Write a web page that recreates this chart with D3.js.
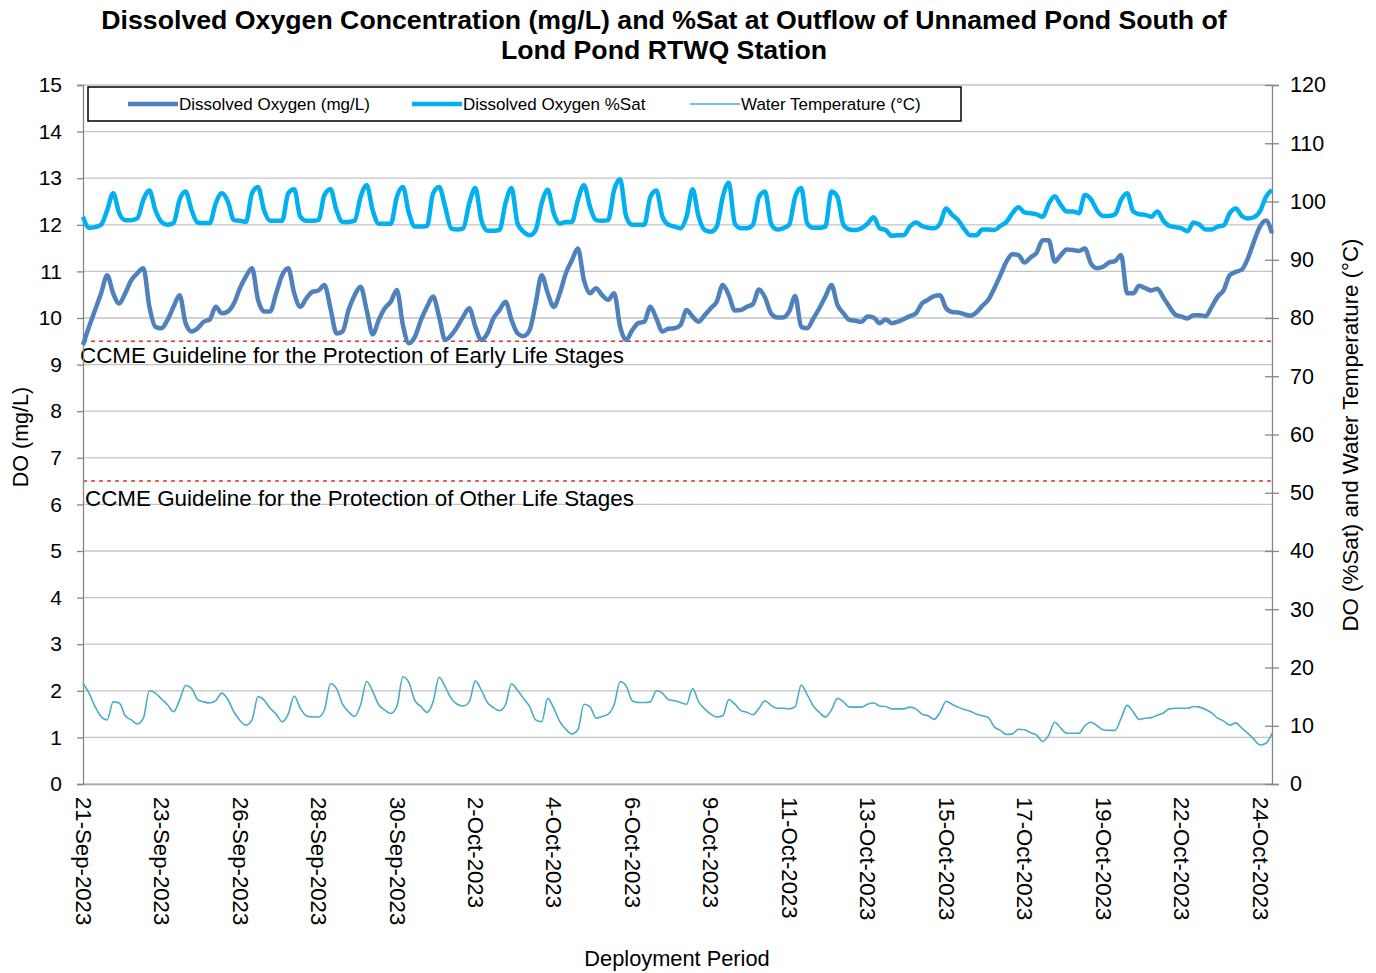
<!DOCTYPE html>
<html>
<head>
<meta charset="utf-8">
<script src="https://cdn.jsdelivr.net/npm/d3@7"></script>
<style>
  body { margin: 0; background: #fff; }
  svg text { font-family: "Liberation Sans", Arial, sans-serif; fill: #000; }
</style>
</head>
<body>
<div id="chart"></div>
<script>
// readings every 4 hours, starting 21-Sep-2023 18:00
var startTime = Date.UTC(2023, 8, 21, 18);
var stepHours = 4;
var tickEveryHours = 52;
var tickLabelCount = 16;

var doMgL = [
  9.42, 9.81, 10.17, 10.53, 10.92, 10.53, 10.31, 10.53, 10.81, 10.96,
  11.07, 10.24, 9.81, 9.78, 9.96, 10.24, 10.49, 9.89, 9.71, 9.78,
  9.92, 9.97, 10.24, 10.10, 10.14, 10.31, 10.64, 10.89, 11.07, 10.39,
  10.14, 10.14, 10.53, 10.92, 11.07, 10.53, 10.24, 10.42, 10.56, 10.59,
  10.71, 10.21, 9.67, 9.71, 10.17, 10.49, 10.67, 10.17, 9.65, 9.96,
  10.21, 10.35, 10.60, 9.85, 9.46, 9.60, 9.96, 10.24, 10.46, 10.03,
  9.53, 9.63, 9.81, 10.03, 10.21, 9.81, 9.53, 9.67, 9.99, 10.17,
  10.35, 9.96, 9.67, 9.61, 9.74, 10.31, 10.92, 10.53, 10.24, 10.53,
  10.96, 11.24, 11.49, 10.81, 10.53, 10.64, 10.49, 10.39, 10.53, 9.81,
  9.53, 9.74, 9.89, 9.92, 10.24, 9.99, 9.71, 9.77, 9.78, 9.85,
  10.17, 10.03, 9.92, 10.06, 10.21, 10.35, 10.71, 10.49, 10.16, 10.17,
  10.24, 10.30, 10.61, 10.44, 10.10, 10.01, 10.01, 10.14, 10.47, 9.81,
  9.78, 9.99, 10.21, 10.46, 10.71, 10.28, 10.10, 9.96, 9.94, 9.92,
  10.03, 10.01, 9.89, 9.97, 9.89, 9.92, 9.98, 10.04, 10.10, 10.31,
  10.39, 10.47, 10.49, 10.21, 10.13, 10.12, 10.08, 10.05, 10.12, 10.26,
  10.39, 10.64, 10.92, 11.21, 11.37, 11.35, 11.19, 11.30, 11.40, 11.67,
  11.67, 11.21, 11.35, 11.47, 11.46, 11.44, 11.49, 11.17, 11.07, 11.10,
  11.19, 11.22, 11.35, 10.53, 10.53, 10.69, 10.64, 10.59, 10.63, 10.44,
  10.24, 10.07, 10.03, 9.99, 10.06, 10.06, 10.04, 10.24, 10.46, 10.60,
  10.92, 10.99, 11.04, 11.28, 11.64, 11.96, 12.09, 11.82
];

var doSat = [
  97.4, 95.5, 95.6, 96.0, 98.5, 101.4, 98.0, 96.8, 96.8, 97.1,
  100.3, 101.9, 98.5, 96.5, 96.0, 96.3, 100.3, 101.7, 98.5, 96.4,
  96.3, 96.3, 99.7, 101.4, 100.0, 96.8, 96.7, 96.5, 101.4, 102.5,
  98.5, 96.7, 96.7, 96.7, 101.4, 102.1, 97.4, 96.7, 96.7, 96.8,
  101.1, 102.1, 98.5, 96.5, 96.5, 96.7, 100.8, 102.8, 98.5, 96.2,
  96.2, 96.2, 100.8, 102.5, 98.0, 95.7, 95.7, 95.8, 101.4, 102.5,
  99.1, 95.4, 95.2, 95.4, 99.7, 102.3, 96.8, 95.0, 95.0, 95.1,
  99.7, 102.3, 96.2, 94.8, 94.2, 95.1, 99.7, 102.0, 98.0, 96.2,
  96.5, 96.5, 100.3, 102.8, 99.1, 96.8, 96.7, 96.8, 102.0, 103.8,
  97.4, 96.0, 96.0, 96.0, 100.8, 101.9, 97.4, 96.0, 95.7, 95.4,
  97.4, 102.1, 97.4, 95.1, 94.8, 95.7, 100.8, 103.2, 96.2, 95.4,
  95.4, 96.0, 100.8, 101.7, 96.2, 95.2, 95.4, 96.0, 100.8, 102.3,
  96.2, 95.5, 95.5, 95.7, 101.7, 100.8, 96.0, 95.2, 95.1, 95.4,
  96.2, 97.3, 95.4, 95.1, 94.1, 94.2, 94.2, 95.7, 96.4, 95.8,
  95.5, 95.4, 96.2, 98.8, 97.7, 96.8, 95.3, 94.2, 94.2, 95.2,
  95.2, 95.1, 95.8, 96.5, 98.0, 99.0, 98.1, 98.0, 97.8, 97.4,
  99.6, 100.9, 99.4, 98.3, 98.3, 98.0, 101.1, 100.4, 98.5, 97.5,
  97.5, 97.8, 100.3, 101.4, 98.3, 97.8, 97.7, 97.4, 98.3, 96.7,
  95.8, 95.6, 95.4, 94.9, 96.4, 96.0, 95.2, 95.2, 95.7, 95.9,
  98.0, 98.8, 97.5, 97.1, 97.3, 98.3, 100.8, 102.0
];

var waterTemp = [
  17.3, 15.6, 13.3, 11.6, 11.0, 14.1, 13.9, 11.7, 11.0, 10.3,
  11.3, 16.0, 15.6, 14.6, 13.6, 12.4, 14.4, 16.9, 16.4, 14.5,
  14.1, 13.9, 14.3, 15.6, 14.5, 12.4, 10.9, 10.1, 11.0, 15.0,
  14.4, 13.0, 12.0, 10.7, 12.0, 15.1, 13.0, 11.7, 11.5, 11.5,
  12.7, 17.2, 16.4, 13.7, 12.4, 11.6, 13.6, 17.6, 15.9, 13.6,
  12.7, 12.1, 13.3, 18.4, 17.4, 14.3, 13.3, 12.3, 14.1, 18.3,
  16.7, 14.7, 13.7, 13.4, 14.1, 17.7, 16.1, 14.0, 13.1, 12.6,
  13.6, 17.2, 16.1, 14.7, 13.3, 11.0, 10.7, 14.7, 13.0, 10.7,
  9.4, 8.6, 9.3, 13.7, 13.3, 11.3, 11.6, 12.0, 13.6, 17.6,
  16.8, 14.3, 14.0, 14.0, 14.1, 16.0, 15.6, 14.5, 14.3, 14.0,
  13.7, 16.4, 14.1, 12.9, 12.0, 11.5, 11.7, 14.5, 13.7, 12.6,
  12.3, 11.9, 13.0, 14.3, 13.5, 13.0, 13.0, 12.9, 13.3, 17.0,
  15.3, 13.4, 12.3, 11.5, 12.7, 14.7, 14.1, 13.2, 13.2, 13.2,
  13.7, 13.9, 13.4, 13.3, 12.9, 12.9, 12.9, 13.2, 12.9, 12.0,
  11.7, 11.1, 12.3, 14.2, 13.7, 13.2, 12.8, 12.5, 12.0, 11.7,
  11.4, 9.8, 9.2, 8.5, 8.6, 9.4, 9.3, 8.8, 8.4, 7.3,
  8.4, 10.6, 9.6, 8.7, 8.7, 8.7, 10.0, 10.6, 10.0, 9.3,
  9.2, 9.2, 11.3, 13.5, 12.4, 11.1, 11.3, 11.4, 11.8, 12.2,
  12.9, 13.0, 13.0, 13.0, 13.3, 13.2, 12.8, 12.2, 11.3, 10.8,
  10.1, 10.5, 9.6, 8.7, 7.7, 6.7, 7.0, 8.7
];

var leftTicks = d3.range(0, 16);
var rightTicks = d3.range(0, 121, 10);
var guideValues = [9.5, 6.5];
var guideLabels = ["CCME Guideline for the Protection of Early Life Stages",
                   "CCME Guideline for the Protection of Other Life Stages"];
var seriesNames = ["Dissolved Oxygen (mg/L)", "Dissolved Oxygen %Sat", "Water Temperature (\u00B0C)"];
var titleLines = ["Dissolved Oxygen Concentration (mg/L) and %Sat at Outflow of Unnamed Pond South of",
                  "Lond Pond RTWQ Station"];

// set the dimensions and margins of the graph
var margin = { top: 85, right: 104, bottom: 189, left: 83 },
    width = 1376 - margin.left - margin.right,
    height = 973 - margin.top - margin.bottom;

var svgRoot = d3.select("#chart")
  .append("svg")
  .attr("width", 1376)
  .attr("height", 973);

var svg = svgRoot.append("g")
  .attr("transform", "translate(" + margin.left + "," + margin.top + ")");

var hour = 3600 * 1000;
var times = doMgL.map(function (d, i) { return new Date(startTime + i * stepHours * hour); });
var endTime = new Date(startTime + (doMgL.length - 1) * stepHours * hour);
var tickDates = d3.range(tickLabelCount).map(function (k) { return new Date(startTime + k * tickEveryHours * hour); });

var x = d3.scaleUtc().domain([new Date(startTime), endTime]).range([0, width]);
var yLeft = d3.scaleLinear().domain([0, 15]).range([height, 0]);
var yRight = d3.scaleLinear().domain([0, 120]).range([height, 0]);

// gridlines
svg.append("g")
  .selectAll("line")
  .data(leftTicks)
  .enter()
  .append("line")
  .attr("x1", 0)
  .attr("x2", width)
  .attr("y1", function (d) { return yLeft(d); })
  .attr("y2", function (d) { return yLeft(d); })
  .style("stroke", "#c3c3c3")
  .style("stroke-width", 1.3);

// guideline lines
svg.append("g")
  .selectAll("line")
  .data(guideValues)
  .enter()
  .append("line")
  .attr("x1", 0)
  .attr("x2", width)
  .attr("y1", function (d) { return yLeft(d); })
  .attr("y2", function (d) { return yLeft(d); })
  .style("stroke", "#e0302c")
  .style("stroke-width", 1.5)
  .style("stroke-dasharray", "4,4");

svg.append("g")
  .selectAll("text")
  .data(guideValues)
  .enter()
  .append("text")
  .attr("x", function (d, i) { return i === 0 ? -3 : 2; })
  .attr("y", function (d, i) { return yLeft(d) + (i === 0 ? 22 : 25); })
  .style("font-size", "22.4px")
  .text(function (d, i) { return guideLabels[i]; });

// X axis
var xAxis = svg.append("g")
  .attr("transform", "translate(0," + height + ")")
  .call(d3.axisBottom(x).tickValues(tickDates).tickSize(0).tickFormat(d3.utcFormat("%-d-%b-%Y")));
xAxis.select(".domain").style("stroke", "#a6a6a6").style("stroke-width", 1.3);
xAxis.selectAll("text")
  .attr("transform", "rotate(90)")
  .attr("x", 13)
  .attr("y", 0)
  .attr("dy", "0.35em")
  .style("text-anchor", "start")
  .style("font-size", "22.2px");

// left axis
var leftAxis = svg.append("g")
  .call(d3.axisLeft(yLeft).tickValues(leftTicks).tickSize(6).tickPadding(15));
leftAxis.select(".domain").style("stroke", "#868686").style("stroke-width", 1.3);
leftAxis.selectAll(".tick line").style("stroke", "#868686").style("stroke-width", 1.3);
leftAxis.selectAll("text").style("font-size", "21px");

// right axis
var rightAxis = svg.append("g")
  .attr("transform", "translate(" + width + ",0)")
  .call(d3.axisRight(yRight).tickValues(rightTicks).tickSize(7).tickPadding(11));
rightAxis.select(".domain").style("stroke", "#868686").style("stroke-width", 1.3);
rightAxis.selectAll(".tick line").attr("x1", -7).style("stroke", "#868686").style("stroke-width", 1.3);
rightAxis.selectAll("text").style("font-size", "21.5px");

// lines
function makeLine(values, scale) {
  return d3.line()
    .defined(function (d, i) { return values[i] != null; })
    .x(function (d, i) { return x(times[i]); })
    .y(function (d, i) { return scale(values[i]); })
    .curve(d3.curveMonotoneX)(values);
}

svg.append("path")
  .attr("d", makeLine(waterTemp, yRight))
  .style("fill", "none")
  .style("stroke", "#4bacc6")
  .style("stroke-width", 1.6);

svg.append("path")
  .attr("d", makeLine(doMgL, yLeft))
  .style("fill", "none")
  .style("stroke", "#4f81bd")
  .style("stroke-width", 4.5)
  .style("stroke-linejoin", "round");

svg.append("path")
  .attr("d", makeLine(doSat, yRight))
  .style("fill", "none")
  .style("stroke", "#00b0f0")
  .style("stroke-width", 4.5)
  .style("stroke-linejoin", "round");

// legend
var legend = svgRoot.append("g");
legend.append("rect")
  .attr("x", 88)
  .attr("y", 87)
  .attr("width", 873)
  .attr("height", 34)
  .style("fill", "#fff")
  .style("stroke", "#000")
  .style("stroke-width", 1.5);

var legendX = [128, 412, 690];
var legendColors = ["#4f81bd", "#00b0f0", "#4bacc6"];
var legendWidths = [4.5, 4.5, 1.6];
seriesNames.forEach(function (name, i) {
  legend.append("line")
    .attr("x1", legendX[i])
    .attr("x2", legendX[i] + 50)
    .attr("y1", 104)
    .attr("y2", 104)
    .style("stroke", legendColors[i])
    .style("stroke-width", legendWidths[i]);
  legend.append("text")
    .attr("x", legendX[i] + 51)
    .attr("y", 110)
    .style("font-size", "17px")
    .text(name);
});

// title
svgRoot.append("g")
  .selectAll("text")
  .data(titleLines)
  .enter()
  .append("text")
  .attr("x", 664)
  .attr("y", function (d, i) { return 29 + i * 30; })
  .attr("text-anchor", "middle")
  .style("font-size", "26.7px")
  .style("font-weight", "bold")
  .text(function (d) { return d; });

// axis titles
svgRoot.append("text")
  .attr("transform", "translate(28,437) rotate(-90)")
  .attr("text-anchor", "middle")
  .style("font-size", "21.5px")
  .text("DO (mg/L)");

svgRoot.append("text")
  .attr("transform", "translate(1358,435) rotate(-90)")
  .attr("text-anchor", "middle")
  .style("font-size", "22.3px")
  .text("DO (%Sat) and Water Temperature (\u00B0C)");

svgRoot.append("text")
  .attr("x", 677)
  .attr("y", 966)
  .attr("text-anchor", "middle")
  .style("font-size", "21.8px")
  .text("Deployment Period");
</script>
</body>
</html>
